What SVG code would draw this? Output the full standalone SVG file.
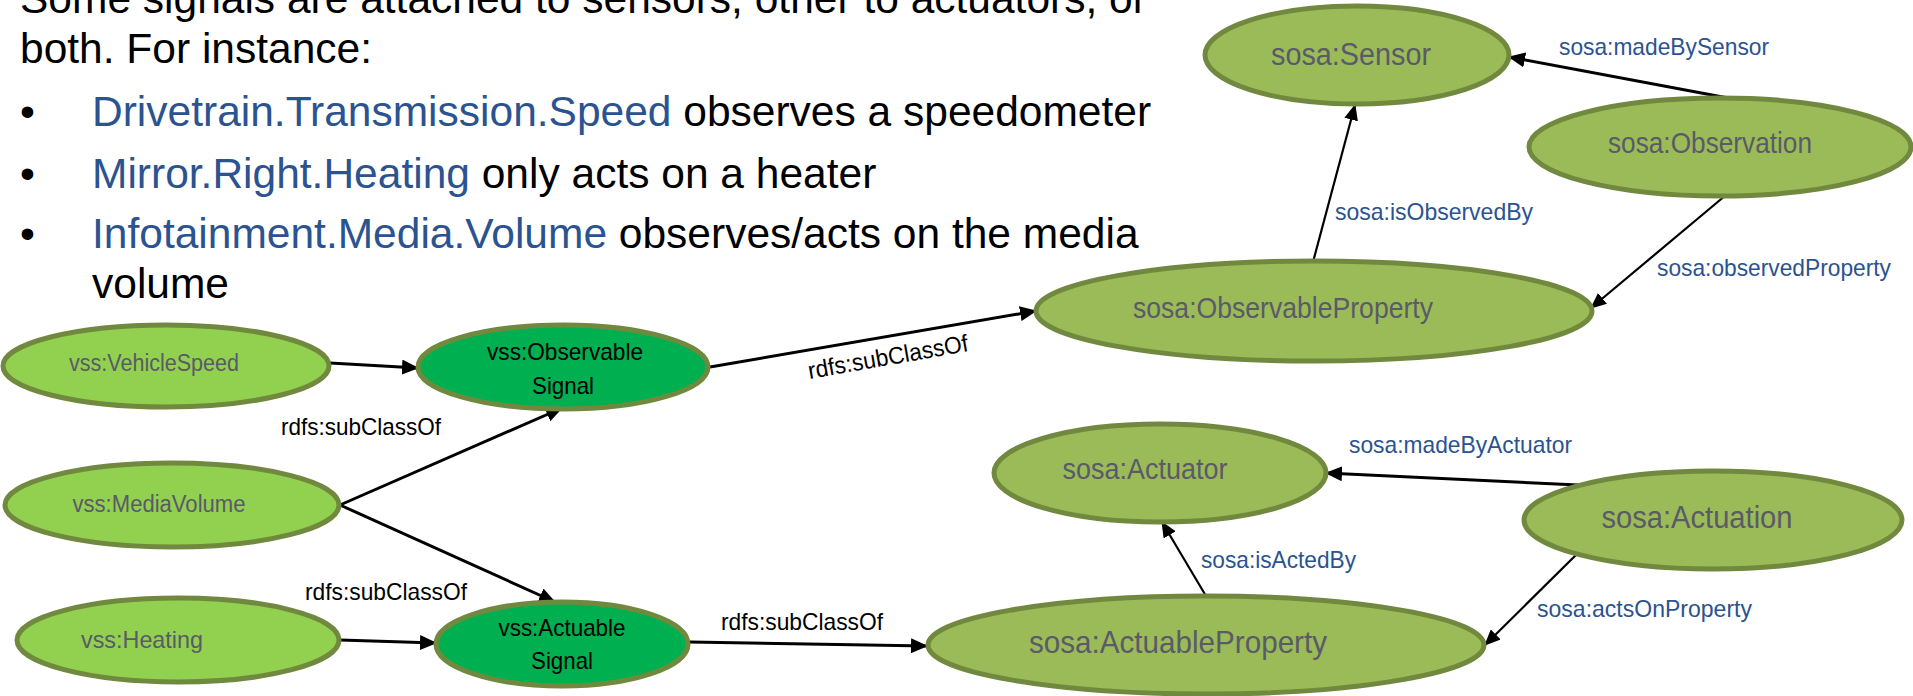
<svg xmlns="http://www.w3.org/2000/svg" width="1913" height="696" viewBox="0 0 1913 696">
  <style>
    .para { font-family: "Liberation Sans", Arial, sans-serif; font-size: 42.5px; fill: #000000; }
    .blue { fill: #2B5390; }
    .vss { fill: #92D050; stroke: #71893F; stroke-width: 5; }
    .sig { fill: #00B050; stroke: #71893F; stroke-width: 5; }
    .sosa { fill: #9BBB59; stroke: #71893F; stroke-width: 5; }
    .ntext { font-family: "Liberation Sans", Arial, sans-serif; fill: #5A5A68; text-anchor: middle; }
    .stext { font-family: "Liberation Sans", Arial, sans-serif; font-size: 24px; fill: #000000; text-anchor: middle; }
    .edge { stroke: #000000; fill: none; }
    .thick { stroke-width: 3; marker-end: url(#head); }
    .thin { stroke-width: 2.2; marker-end: url(#headSmall); }
    .elabel { font-family: "Liberation Sans", Arial, sans-serif; font-size: 24px; fill: #000000; }
    .plabel { font-family: "Liberation Sans", Arial, sans-serif; font-size: 24px; fill: #2B5390; }
  </style>
  <defs>
    <marker id="head" markerUnits="userSpaceOnUse" markerWidth="17" markerHeight="15" refX="16" refY="7.5" orient="auto">
      <path d="M0,0 L17,7.5 L0,15 z" fill="#000000"/>
    </marker>
    <marker id="headSmall" markerUnits="userSpaceOnUse" markerWidth="16" markerHeight="14" refX="15" refY="7" orient="auto">
      <path d="M0,0 L16,7 L0,14 z" fill="#000000"/>
    </marker>
  </defs>

  <!-- explanatory paragraph -->
  <g id="intro">
    <text class="para" x="20" y="13">Some signals are attached to sensors, other to actuators, or</text>
    <text class="para" x="20" y="63">both. For instance:</text>
    <text class="para" x="20" y="126">•</text>
    <text class="para" x="92" y="126"><tspan class="blue">Drivetrain.Transmission.Speed</tspan> observes a speedometer</text>
    <text class="para" x="20" y="188">•</text>
    <text class="para" x="92" y="188"><tspan class="blue">Mirror.Right.Heating</tspan> only acts on a heater</text>
    <text class="para" x="20" y="248">•</text>
    <text class="para" x="92" y="248"><tspan class="blue">Infotainment.Media.Volume</tspan> observes/acts on the media</text>
    <text class="para" x="92" y="298">volume</text>
  </g>

  <!-- connectors -->
  <g id="connectors">
    <line class="edge thick" x1="330" y1="363" x2="418" y2="368"/>
    <line class="edge thick" x1="340" y1="505" x2="562" y2="408"/>
    <line class="edge thick" x1="340" y1="505" x2="555" y2="602"/>
    <line class="edge thick" x1="340" y1="640" x2="436" y2="643"/>
    <line class="edge thick" x1="710" y1="367" x2="1036" y2="311"/>
    <line class="edge thick" x1="690" y1="642" x2="927" y2="646"/>
    <line class="edge thin" x1="1313" y1="262" x2="1355" y2="105"/>
    <line class="edge thick" x1="1728" y1="98" x2="1509" y2="57"/>
    <line class="edge thin" x1="1726" y1="195" x2="1591" y2="308"/>
    <line class="edge thin" x1="1206" y1="596" x2="1162" y2="522"/>
    <line class="edge thick" x1="1578" y1="485" x2="1326" y2="473"/>
    <line class="edge thin" x1="1578" y1="553" x2="1485" y2="645"/>

    <text class="elabel" x="281" y="435" textLength="160" lengthAdjust="spacingAndGlyphs">rdfs:subClassOf</text>
    <text class="elabel" x="305" y="600" textLength="162" lengthAdjust="spacingAndGlyphs">rdfs:subClassOf</text>
    <text class="elabel" x="721" y="630" textLength="162" lengthAdjust="spacingAndGlyphs">rdfs:subClassOf</text>
    <text class="elabel" transform="translate(888,357) rotate(-10)" x="-81" y="8" textLength="162" lengthAdjust="spacingAndGlyphs">rdfs:subClassOf</text>

    <text class="plabel" x="1559" y="55" textLength="210" lengthAdjust="spacingAndGlyphs">sosa:madeBySensor</text>
    <text class="plabel" x="1335" y="220" textLength="198" lengthAdjust="spacingAndGlyphs">sosa:isObservedBy</text>
    <text class="plabel" x="1657" y="276" textLength="234" lengthAdjust="spacingAndGlyphs">sosa:observedProperty</text>
    <text class="plabel" x="1349" y="453" textLength="223" lengthAdjust="spacingAndGlyphs">sosa:madeByActuator</text>
    <text class="plabel" x="1201" y="568" textLength="155" lengthAdjust="spacingAndGlyphs">sosa:isActedBy</text>
    <text class="plabel" x="1537" y="617" textLength="215" lengthAdjust="spacingAndGlyphs">sosa:actsOnProperty</text>
  </g>

  <!-- vss signal classes -->
  <g id="vehicleSpeed">
    <ellipse class="vss" cx="166" cy="366" rx="163" ry="41"/>
    <text class="ntext" x="154" y="371" font-size="23" textLength="170" lengthAdjust="spacingAndGlyphs">vss:VehicleSpeed</text>
  </g>
  <g id="mediaVolume">
    <ellipse class="vss" cx="172" cy="505" rx="167" ry="42"/>
    <text class="ntext" x="159" y="512" font-size="23.5" textLength="173" lengthAdjust="spacingAndGlyphs">vss:MediaVolume</text>
  </g>
  <g id="heating">
    <ellipse class="vss" cx="178" cy="640" rx="161" ry="42"/>
    <text class="ntext" x="142" y="648" font-size="24" textLength="122" lengthAdjust="spacingAndGlyphs">vss:Heating</text>
  </g>
  <g id="observableSignal">
    <ellipse class="sig" cx="563" cy="367" rx="145" ry="42"/>
    <text class="stext" x="565" y="360" textLength="156" lengthAdjust="spacingAndGlyphs">vss:Observable</text>
    <text class="stext" x="563" y="394" textLength="62" lengthAdjust="spacingAndGlyphs">Signal</text>
  </g>
  <g id="actuableSignal">
    <ellipse class="sig" cx="562" cy="644" rx="126" ry="42"/>
    <text class="stext" x="562" y="636" textLength="127" lengthAdjust="spacingAndGlyphs">vss:Actuable</text>
    <text class="stext" x="562" y="669" textLength="62" lengthAdjust="spacingAndGlyphs">Signal</text>
  </g>

  <!-- sosa classes -->
  <g id="sensor">
    <ellipse class="sosa" cx="1357" cy="55" rx="152" ry="49"/>
    <text class="ntext" x="1351" y="65" font-size="31" textLength="160" lengthAdjust="spacingAndGlyphs">sosa:Sensor</text>
  </g>
  <g id="observation">
    <ellipse class="sosa" cx="1720" cy="147" rx="191" ry="49"/>
    <text class="ntext" x="1710" y="153" font-size="30" textLength="204" lengthAdjust="spacingAndGlyphs">sosa:Observation</text>
  </g>
  <g id="observableProperty">
    <ellipse class="sosa" cx="1314" cy="311" rx="278" ry="50"/>
    <text class="ntext" x="1283" y="318" font-size="29" textLength="300" lengthAdjust="spacingAndGlyphs">sosa:ObservableProperty</text>
  </g>
  <g id="actuator">
    <ellipse class="sosa" cx="1160" cy="473" rx="166" ry="49"/>
    <text class="ntext" x="1145" y="479" font-size="29" textLength="165" lengthAdjust="spacingAndGlyphs">sosa:Actuator</text>
  </g>
  <g id="actuation">
    <ellipse class="sosa" cx="1713" cy="520" rx="189" ry="49"/>
    <text class="ntext" x="1697" y="528" font-size="31" textLength="191" lengthAdjust="spacingAndGlyphs">sosa:Actuation</text>
  </g>
  <g id="actuableProperty">
    <ellipse class="sosa" cx="1206" cy="645" rx="278" ry="49"/>
    <text class="ntext" x="1178" y="653" font-size="32" textLength="298" lengthAdjust="spacingAndGlyphs">sosa:ActuableProperty</text>
  </g>
</svg>
